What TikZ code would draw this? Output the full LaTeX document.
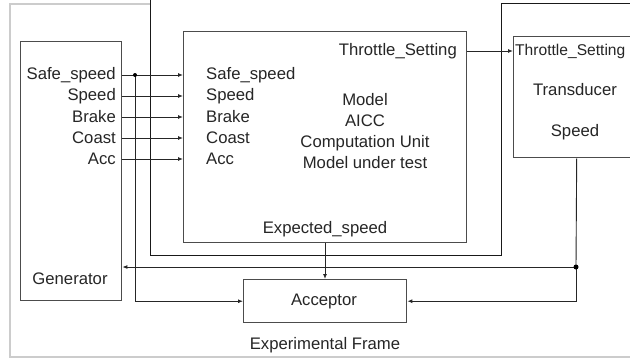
\documentclass[tikz,border=0pt]{standalone}
\usepackage{fontspec}
\setmainfont{Liberation Sans}
\usetikzlibrary{arrows.meta}

\tikzstyle{block}=[draw=black!70,line width=1.4pt,rectangle,inner sep=0pt,anchor=north west]
\tikzstyle{signal} = [draw=black!85,line width=0.9pt,-{Latex[length=5pt,width=4pt]}]
\tikzstyle{wire} = [draw=black!85,line width=0.9pt,-]
\tikzstyle{port} = [font=\fontsize{16.7}{21}\selectfont,text=black!85,inner sep=0pt]
\newcommand{\pxscale}{1pt}

\begin{document}
\begin{tikzpicture}[x=\pxscale, y=-\pxscale]
    \clip (0,0) rectangle (630,360);
    \fill[white] (0,0) rectangle (630,360);
    % First we draw the frames
    \draw[black!20, line width=1.2pt] (150,4) -- (10,4) -- (10,357) -- (630,357);
    \draw[black!90, line width=1pt] (150,0) -- (150,255) -- (501,255) -- (501,3) -- (630,3);
    \node[port] (eframe) at (325,345) {Experimental Frame};

    % Then the blocks
    \node[block, minimum width=101pt, minimum height=259pt] (gen) at (20,41) {};
    \node[block, minimum width=283pt, minimum height=211pt] (model) at (183,31) {};
    \node[block, minimum width=126pt, minimum height=121pt] (trans) at (513,36) {};
    \node[block, minimum width=163pt, minimum height=43pt] (acc) at (243,279) {};

    \node[port] (genname) at (70,279) {Generator};
    \node[port, align=center] (modname) at (365,131) {Model\\AICC\\Computation Unit\\Model under test};
    \node[port] (transname) at (575,90) {Transducer};
    \node[port] (transspeed) at (575,132) {Speed};
    \node[port] (accname) at (324,301) {Acceptor};

    % Connect generator outputs with model inputs
    \foreach \y/\name/\lab in {75/safe/Safe\_speed, 96/speed/Speed, 117/brake/Brake, 138/coast/Coast, 159/acc/Acc}
    {
        \node[port, anchor=east] (out\name) at (116,\y) {\lab};
        \node[port, anchor=west] (in\name) at (206,\y) {\lab};
        \path[signal] (gen.east |- out\name) -- (model.west |- in\name);
    }

    % Throttle setting and expected speed
    \node[port, anchor=east] (throut) at (457,51) {Throttle\_Setting};
    \node[port, anchor=west, font=\fontsize{15.6}{21}\selectfont] (thrin) at (515,51) {Throttle\_Setting};
    \path[signal] (model.east |- throut) -- (trans.west |- thrin);
    \node[port] (expspeed) at (325,229) {Expected\_speed};
    \path[signal] (model.south -| expspeed) -- (acc.north -| expspeed);

    % Feedback of the speed
    \coordinate (tap) at (135,75);
    \coordinate (fb) at (576,267);
    \path[signal] (tap) |- (acc.west);
    \path[wire] (trans.south) -- (fb);
    \path[signal] (fb) -- (fb -| gen.east);
    \path[signal] (fb) |- (acc.east);
    \fill[black] (tap) circle (2pt);
    \fill[black] (fb) circle (2.5pt);
\end{tikzpicture}
\end{document}
